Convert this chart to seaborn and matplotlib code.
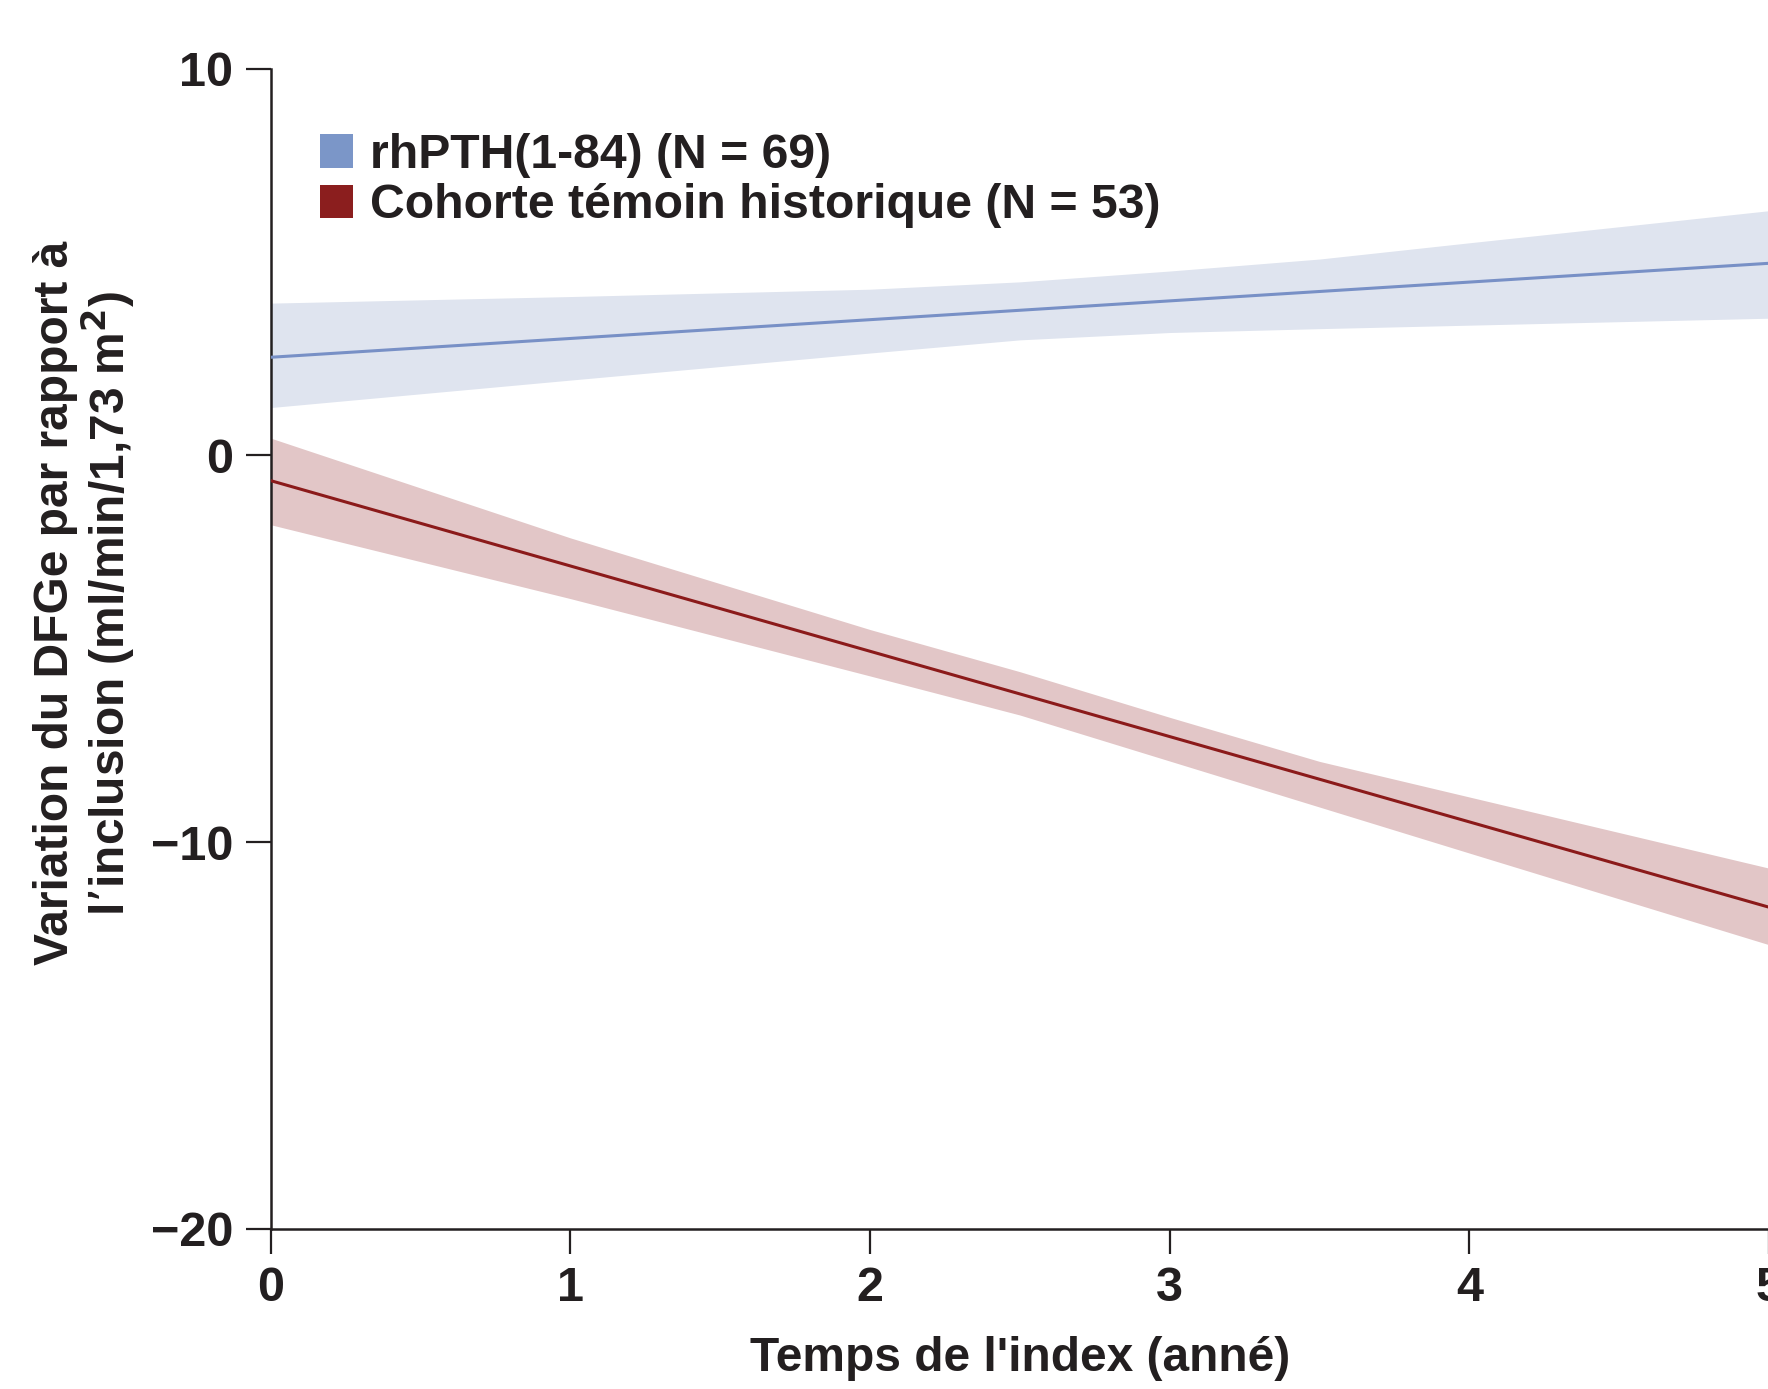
import numpy as np
import pandas as pd
import matplotlib
matplotlib.use("Agg")
import matplotlib.pyplot as plt
from matplotlib.patches import Patch
import seaborn as sns

# données
annees = [0, 1, 2, 2.5, 3, 3.5, 4, 5]

rhpth_haut = [3.94, 4.11, 4.30, 4.49, 4.77, 5.08, 5.50, 6.33]
rhpth_bas = [1.24, 1.95, 2.65, 2.99, 3.18, 3.28, 3.37, 3.55]
temoin_haut = [0.45, -2.13, -4.50, -5.59, -6.77, -7.91, -8.83, -10.67]
temoin_bas = [-1.79, -3.70, -5.70, -6.71, -7.90, -9.09, -10.28, -12.65]

droite_x = [0, 5]
rhpth_moy = [2.54, 4.97]
temoin_moy = [-0.65, -11.68]

groupes = ["rhPTH(1-84) (N = 69)", "Cohorte témoin historique (N = 53)"]
couleurs_ligne = ["#7890C6", "#8B1A1A"]
couleurs_bande = ["#DFE4EF", "#E2C6C7"]
couleurs_legende = ["#7B96C8", "#8B1E1E"]

texte = "#231F20"

sns.set_theme(style="ticks")
plt.rcParams["font.family"] = ["Liberation Sans", "DejaVu Sans"]
plt.rcParams["font.weight"] = "bold"

fig = plt.figure(figsize=(17.68, 13.89), dpi=100)
ax = fig.add_axes([0.1531, 0.1152, 0.8475, 0.8353])

# bandes de confiance
ax.fill_between(annees, rhpth_bas, rhpth_haut, color=couleurs_bande[0], lw=0, zorder=1)
ax.fill_between(annees, temoin_bas, temoin_haut, color=couleurs_bande[1], lw=0, zorder=1)

# droites moyennes
df = pd.DataFrame({
    "x": droite_x * 2,
    "y": rhpth_moy + temoin_moy,
    "groupe": [groupes[0]] * 2 + [groupes[1]] * 2,
})
sns.lineplot(data=df, x="x", y="y", hue="groupe", palette=couleurs_ligne,
             linewidth=2.2, legend=False, ax=ax, zorder=3)

ax.set_xlim(0, 5)
ax.set_ylim(-20, 10)
ax.set_xticks([0, 1, 2, 3, 4, 5])
ax.set_yticks([-20, -10, 0, 10])
sns.despine(ax=ax)
for s in ["left", "bottom"]:
    ax.spines[s].set_linewidth(1.8)
    ax.spines[s].set_color(texte)
ax.tick_params(axis="both", length=18, width=1.6, color=texte, labelsize=35,
               labelcolor=texte, pad=9)
for lab in ax.get_xticklabels() + ax.get_yticklabels():
    lab.set_fontweight("bold")

ax.set_xlabel("Temps de l'index (anné)", fontsize=34.5, fontweight="bold",
              color=texte, labelpad=18)
ax.set_ylabel("Variation du DFGe par rapport à\nl’inclusion (ml/min/1,73 m$^2$)",
              fontsize=34.5, fontweight="bold", color=texte,
              linespacing=1.05)
ax.yaxis.set_label_coords(-0.089, 0.5396)

poignees = [Patch(facecolor=c, edgecolor="none") for c in couleurs_legende]
leg = ax.legend(poignees, groupes, loc="upper left", bbox_to_anchor=(0.033, 0.945),
                frameon=False, handlelength=0.69, handleheight=0.7,
                handletextpad=0.35, labelspacing=0.12, borderpad=0, borderaxespad=0,
                prop={"family": ["Liberation Sans", "DejaVu Sans"],
                      "weight": "bold", "size": 34.7})
for t in leg.get_texts():
    t.set_color(texte)

fig.savefig("out.png", dpi=100)
